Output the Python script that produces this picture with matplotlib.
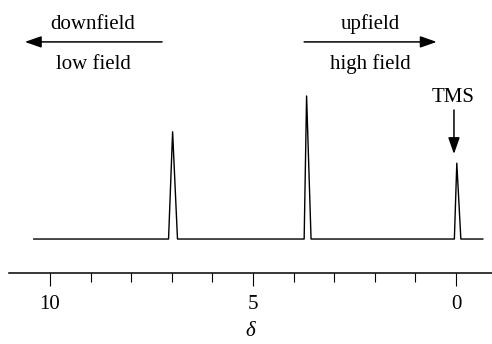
import matplotlib
matplotlib.use("Agg")
import matplotlib.pyplot as plt
from matplotlib.ticker import FixedLocator

plt.rcParams["font.family"] = ["Liberation Serif", "DejaVu Serif"]

# Spectrum (chemical shift in ppm, relative intensity)
shift = [10.4, 7.08, 6.98, 6.86, 3.74, 3.68, 3.57, 0.04, -0.02, -0.12, -0.66]
intensity = [0, 0, 0.75, 0, 0, 1.0, 0, 0, 0.53, 0, 0]

major_ticks = [10, 5, 0]
minor_ticks = [9, 8, 7, 6, 4, 3, 2, 1]
tick_labels = ["10", "5", "0"]

fig = plt.figure(figsize=(4.92, 3.44), dpi=100)
ax = fig.add_axes([9 / 492, 1 - 272.5 / 344, 1 - 9 / 492, 272.5 / 344])

ax.plot(shift, intensity, color="black", lw=1.0)

ax.set_xlim(11.01, -0.887)
ax.set_ylim(-0.234, 1.671)

for side in ("top", "left", "right"):
    ax.spines[side].set_visible(False)
ax.spines["bottom"].set_linewidth(1.1)
ax.set_yticks([])

ax.xaxis.set_major_locator(FixedLocator(major_ticks))
ax.xaxis.set_minor_locator(FixedLocator(minor_ticks))
ax.set_xticklabels(tick_labels)
ax.tick_params(axis="x", which="major", length=9.5, width=0.8, labelsize=15, pad=6.5)
ax.tick_params(axis="x", which="minor", length=6.5, width=0.8)
ax.set_xlabel("δ", fontsize=15, style="italic", labelpad=6)

fs = 15
arrow = dict(arrowstyle="-|>,head_length=1.0,head_width=0.35", color="black",
             lw=1.1, mutation_scale=10, shrinkA=0, shrinkB=0)

# downfield / low field
ax.annotate("", xy=(10.62, 1.378), xytext=(7.24, 1.378), arrowprops=arrow)
ax.text(8.94, 1.50, "downfield", ha="center", va="center", fontsize=fs)
ax.text(8.94, 1.22, "low field", ha="center", va="center", fontsize=fs)

# upfield / high field
ax.annotate("", xy=(0.475, 1.378), xytext=(3.74, 1.378), arrowprops=arrow)
ax.text(2.12, 1.50, "upfield", ha="center", va="center", fontsize=fs)
ax.text(2.12, 1.22, "high field", ha="center", va="center", fontsize=fs)

# TMS reference
ax.text(0.06, 0.99, "TMS", ha="center", va="center", fontsize=fs)
ax.annotate("", xy=(0.05, 0.594), xytext=(0.05, 0.902), arrowprops=arrow)

fig.savefig("out.png", dpi=100)
